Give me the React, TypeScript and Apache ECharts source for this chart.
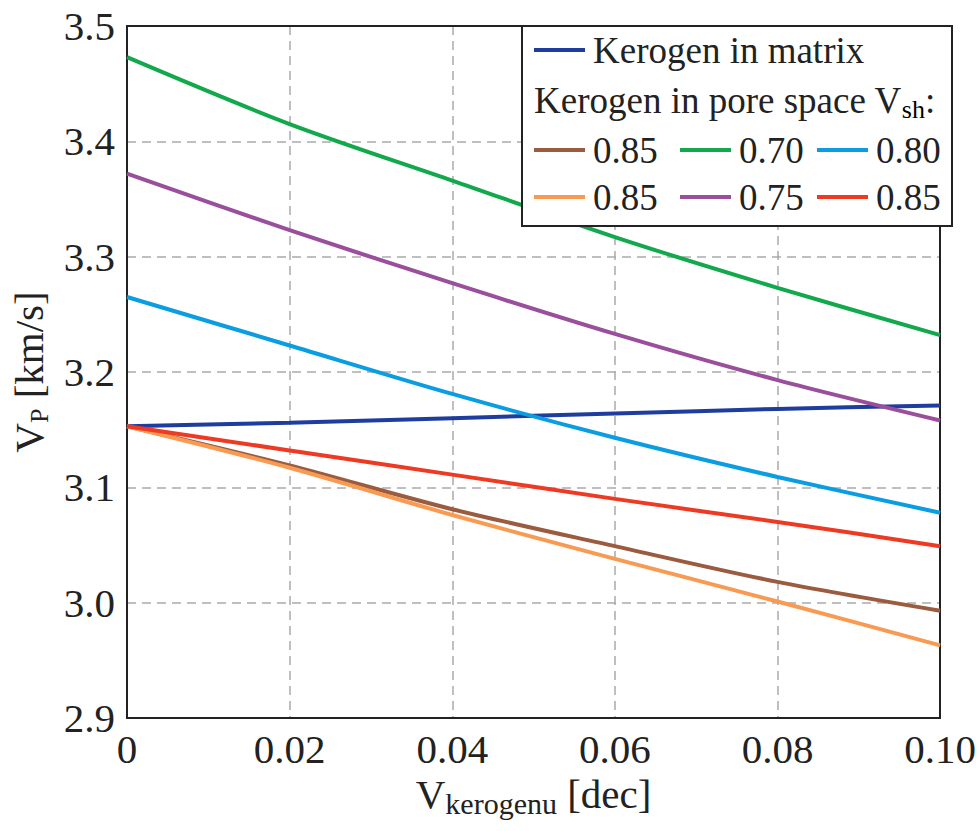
import React, { useEffect, useRef } from "react";
import * as echarts from "echarts";

const xValues = [0, 0.02, 0.04, 0.06, 0.08, 0.1];
const xTicks = ["0", "0.02", "0.04", "0.06", "0.08", "0.10"];
const matrix = [3.153, 3.156, 3.160, 3.164, 3.168, 3.171];
const pore085a = [3.153, 3.119, 3.081, 3.049, 3.018, 2.993];
const pore070 = [3.473, 3.415, 3.366, 3.317, 3.273, 3.232];
const pore080 = [3.265, 3.223, 3.181, 3.143, 3.109, 3.078];
const pore085b = [3.153, 3.117, 3.076, 3.038, 3.001, 2.963];
const pore075 = [3.372, 3.323, 3.277, 3.233, 3.193, 3.158];
const pore085c = [3.153, 3.132, 3.111, 3.090, 3.070, 3.049];

const seriesDefs = [
  { name: "Kerogen in matrix", label: "Kerogen in matrix", data: matrix, color: "#1f3d9e" },
  { name: "0.85 (a)", label: "0.85", data: pore085a, color: "#9a5b3e" },
  { name: "0.70", label: "0.70", data: pore070, color: "#12a84c" },
  { name: "0.80", label: "0.80", data: pore080, color: "#0b9de2" },
  { name: "0.85 (b)", label: "0.85", data: pore085b, color: "#f89a52" },
  { name: "0.75", label: "0.75", data: pore075, color: "#9a4f9d" },
  { name: "0.85 (c)", label: "0.85", data: pore085c, color: "#ee3a23" },
];

const FONT = "Liberation Serif";

export default function App() {
  const ref = useRef<HTMLDivElement>(null);
  useEffect(() => {
    document.body.style.margin = "0";
    if (!ref.current) return;
    const chart = echarts.init(ref.current, undefined, { renderer: "svg" });

    const legendX = 522;
    const legendY = 26;
    const lineLen = 51;
    const legendItems: any[] = [];
    legendItems.push({
      type: "rect",
      shape: { x: legendX, y: legendY, width: 430, height: 200 },
      style: { fill: "#fff", stroke: "#222", lineWidth: 2 },
      z: 100,
    });
    const addEntry = (x: number, y: number, color: string, text: string) => {
      legendItems.push({
        type: "line",
        shape: { x1: x, y1: y, x2: x + lineLen, y2: y },
        style: { stroke: color, lineWidth: 4 },
        z: 101,
      });
      legendItems.push({
        type: "text",
        x: x + 59,
        y: y,
        style: {
          text,
          fontFamily: FONT,
          fontSize: 37,
          fill: "#222",
          verticalAlign: "middle",
          align: "left",
        },
        z: 101,
      });
    };
    addEntry(534, 50, seriesDefs[0].color, seriesDefs[0].label);
    legendItems.push({
      type: "text",
      x: 534,
      y: 100,
      style: {
        text: "{a|Kerogen in pore space V}{s|sh}{a|:}",
        verticalAlign: "middle",
        align: "left",
        rich: {
          a: { fontFamily: FONT, fontSize: 37, lineHeight: 44, fill: "#222", color: "#222" },
          s: { fontFamily: FONT, fontSize: 26, lineHeight: 26, verticalAlign: "bottom", color: "#222" },
        },
      },
      z: 101,
    });
    const cols = [534, 680, 817];
    const rows = [150, 197];
    for (let i = 1; i < seriesDefs.length; i++) {
      const r = Math.floor((i - 1) / 3);
      const c = (i - 1) % 3;
      addEntry(cols[c], rows[r], seriesDefs[i].color, seriesDefs[i].label);
    }

    chart.setOption({
      animation: false,
      backgroundColor: "#fff",
      grid: { left: 127, right: 28, top: 26, bottom: 113 },
      xAxis: [
        {
          type: "value",
          min: 0,
          max: 0.1,
          interval: 0.02,
          position: "bottom",
          axisLine: { show: true, onZero: false, lineStyle: { color: "#222", width: 2 } },
          axisTick: { show: false },
          axisLabel: {
            margin: 10,
            fontFamily: FONT,
            fontSize: 41,
            color: "#222",
            formatter: (v: number) => {
              const idx = xValues.findIndex((x) => Math.abs(x - v) < 1e-9);
              return idx >= 0 ? xTicks[idx] : "";
            },
          },
          splitLine: { show: true, lineStyle: { color: "#aaa", width: 1.5, type: [9, 6] } },
          name: "{a|V}{s|kerogenu}{a| [dec]}",
          nameLocation: "middle",
          nameGap: 52,
          nameTextStyle: {
            rich: {
              a: { fontFamily: FONT, fontSize: 41, lineHeight: 48, color: "#222" },
              s: { fontFamily: FONT, fontSize: 30, lineHeight: 30, verticalAlign: "bottom", color: "#222" },
            },
          },
        },
        {
          type: "value",
          min: 0,
          max: 0.1,
          interval: 0.02,
          position: "top",
          axisLine: { show: true, onZero: false, lineStyle: { color: "#222", width: 2 } },
          axisTick: { show: false },
          axisLabel: { show: false },
          splitLine: { show: false },
        },
      ],
      yAxis: [
        {
          type: "value",
          min: 2.9,
          max: 3.5,
          interval: 0.1,
          axisLine: { show: true, onZero: false, lineStyle: { color: "#222", width: 2 } },
          axisTick: { show: false },
          axisLabel: {
            margin: 12,
            fontFamily: FONT,
            fontSize: 41,
            color: "#222",
            formatter: (v: number) => v.toFixed(1),
          },
          splitLine: { show: true, lineStyle: { color: "#aaa", width: 1.5, type: [9, 6] } },
          name: "{a|V}{s|P}{a| [km/s]}",
          nameLocation: "middle",
          nameGap: 72,
          nameTextStyle: {
            rich: {
              a: { fontFamily: FONT, fontSize: 41, lineHeight: 48, color: "#222" },
              s: { fontFamily: FONT, fontSize: 26, lineHeight: 26, verticalAlign: "bottom", color: "#222" },
            },
          },
        },
        {
          type: "value",
          min: 2.9,
          max: 3.5,
          interval: 0.1,
          position: "right",
          axisLine: { show: true, onZero: false, lineStyle: { color: "#222", width: 2 } },
          axisTick: { show: false },
          axisLabel: { show: false },
          splitLine: { show: false },
        },
      ],
      series: seriesDefs.map((s) => ({
        name: s.name,
        type: "line",
        xAxisIndex: 0,
        yAxisIndex: 0,
        data: s.data.map((v, i) => [xValues[i], v]),
        smooth: 0.3,
        symbol: "none",
        lineStyle: { color: s.color, width: 4 },
        itemStyle: { color: s.color },
      })),
      graphic: legendItems,
    });
    return () => chart.dispose();
  }, []);
  return <div ref={ref} style={{ width: 979, height: 831 }} />;
}
